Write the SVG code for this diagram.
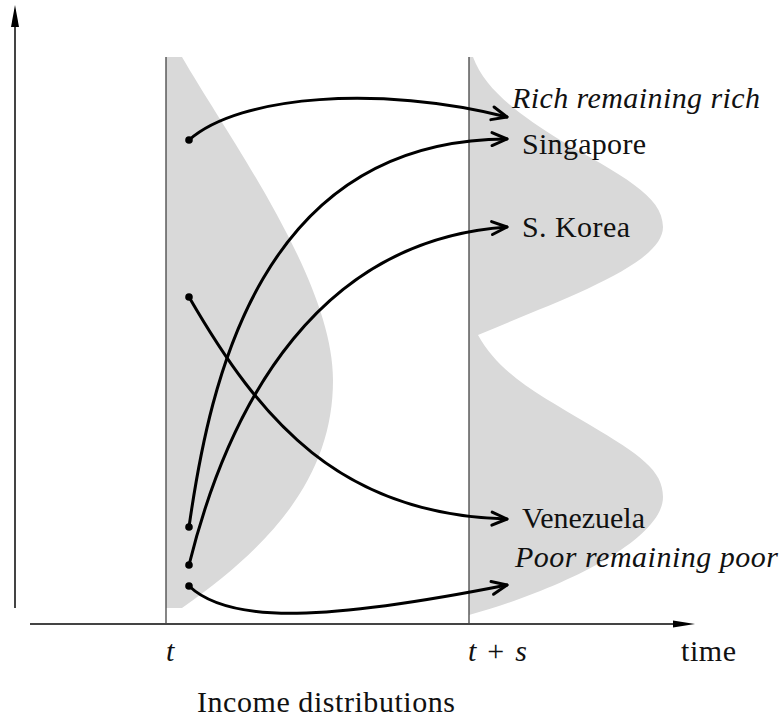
<svg xmlns="http://www.w3.org/2000/svg" width="783" height="721" viewBox="0 0 783 721">
<style>
.dist{fill:#d9d9d9;stroke:none}
.vline{stroke:#444;stroke-width:1.3;fill:none}
.axis{stroke:#444;stroke-width:2;fill:none}
.conn{stroke:#000;stroke-width:3;fill:none;stroke-linecap:round}
.dot{fill:#000}
.lbl{font-family:"Liberation Serif","Times New Roman",serif;font-size:30px;fill:#111}
.it{font-style:italic}
</style>
<defs>
<marker id="open" markerUnits="userSpaceOnUse" viewBox="-18 -9 20 18" refX="0" refY="0" markerWidth="20" markerHeight="18" orient="auto">
<path d="M-15,-6.5 L0,0 L-15,6.5" fill="none" stroke="#000" stroke-width="3" stroke-linecap="round" stroke-linejoin="round"/>
</marker>
</defs>
<rect width="783" height="721" fill="#fff"/>
<g id="dist-t">
<path class="dist" d="M166,57 L182,57 C230,140 333,280 333,380 C333,470 280,540 182,608 L166,608 Z"/>
</g>
<g id="dist-ts">
<path class="dist" d="M469,57 L473,57 C485,90 520,115 560,140 C620,175 663,195 663,227 C663,265 560,300 478,335 C500,375 540,395 590,425 C640,455 663,470 663,497 C663,540 560,590 469,615 Z"/>
</g>
<g id="axes">
<line class="axis" x1="15" y1="608" x2="15" y2="24"/>
<path d="M15,5 L19,27 L11,27 Z" fill="#000"/>
<line class="axis" x1="30" y1="624" x2="676" y2="624"/>
<path d="M695,624 L673,620.5 L673,627.5 Z" fill="#000"/>
<line class="vline" x1="166" y1="57" x2="166" y2="624"/>
<line class="vline" x1="469" y1="57" x2="469" y2="624"/>
</g>
<g id="connectors">
<path class="conn" marker-end="url(#open)" d="M189,140 C240,95 380,85 507,117"/>
<path class="conn" marker-end="url(#open)" d="M189,527 C210,380 260,140 507,139"/>
<path class="conn" marker-end="url(#open)" d="M189,565 C230,400 320,240 507,227"/>
<path class="conn" marker-end="url(#open)" d="M189,297 C260,420 340,515 507,519"/>
<path class="conn" marker-end="url(#open)" d="M189,586 C230,625 330,620 507,585"/>
<circle class="dot" cx="189" cy="140" r="3.8"/>
<circle class="dot" cx="189" cy="297" r="3.8"/>
<circle class="dot" cx="189" cy="527" r="3.8"/>
<circle class="dot" cx="189" cy="565" r="3.8"/>
<circle class="dot" cx="189" cy="586" r="3.8"/>
</g>
<g id="node-rich"><text class="lbl it" x="512" y="108" textLength="248">Rich remaining rich</text></g>
<g id="node-singapore"><text class="lbl" x="522" y="154" textLength="124">Singapore</text></g>
<g id="node-korea"><text class="lbl" x="522" y="237" textLength="108">S. Korea</text></g>
<g id="node-venezuela"><text class="lbl" x="522" y="528" textLength="123">Venezuela</text></g>
<g id="node-poor"><text class="lbl it" x="515" y="567" textLength="263">Poor remaining poor</text></g>
<g id="labels">
<text class="lbl it" x="166" y="661">t</text>
<text class="lbl" x="468" y="661" textLength="59"><tspan class="it">t</tspan> + <tspan class="it">s</tspan></text>
<text class="lbl" x="681" y="661" textLength="55">time</text>
<text class="lbl" x="197" y="712" textLength="258">Income distributions</text>
</g>
</svg>
